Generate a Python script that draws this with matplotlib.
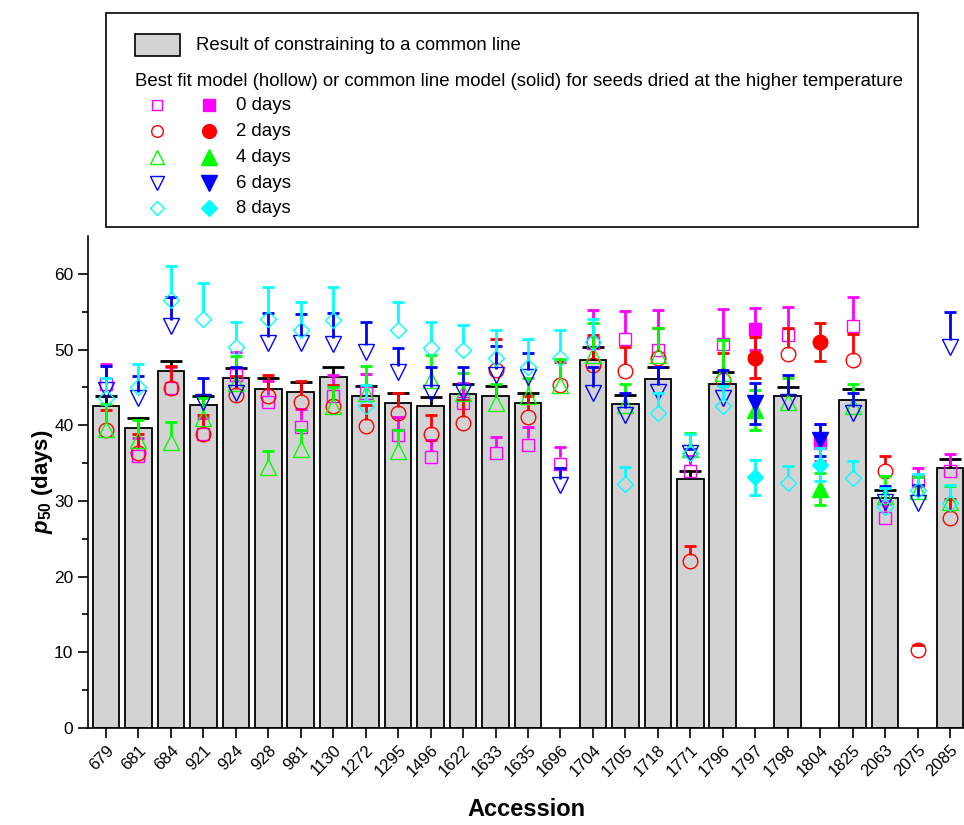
import numpy as np
import matplotlib
matplotlib.use('Agg')
import matplotlib.pyplot as plt
from matplotlib.patches import Rectangle
from matplotlib.lines import Line2D

plt.rcParams['font.family'] = ['Liberation Sans', 'DejaVu Sans']
plt.rcParams['mathtext.fontset'] = 'custom'
plt.rcParams['mathtext.it'] = 'Liberation Sans:italic:bold'
plt.rcParams['mathtext.bf'] = 'Liberation Sans:bold'
plt.rcParams['mathtext.rm'] = 'Liberation Sans:bold'

nan = np.nan

accessions = ['679', '681', '684', '921', '924', '928', '981', '1130', '1272', '1295',
              '1496', '1622', '1633', '1635', '1696', '1704', '1705', '1718', '1771',
              '1796', '1797', '1798', '1804', '1825', '2063', '2075', '2085']

# common line result (bars) and upper error
bar_vals = [42.5, 39.7, 47.1, 42.7, 46.2, 44.8, 44.4, 46.4, 43.9, 43.0,
            42.5, 44.1, 43.8, 43.0, nan, 48.6, 42.8, 46.1, 32.9,
            45.5, nan, 43.8, nan, 43.3, 30.4, nan, 34.4]
bar_err = [1.3, 1.2, 1.4, 1.2, 1.4, 1.4, 1.3, 1.3, 1.3, 1.3,
           1.2, 1.4, 1.4, 1.3, nan, 1.7, 1.2, 1.6, 1.1,
           1.5, nan, 1.3, nan, 1.5, 1.1, nan, 1.1]

# accessions where the common line model (solid markers) was used
solid = ['1797', '1804']

d0_vals = [45.5, 36.0, 44.9, 38.9, 46.6, 43.1, 39.8, 43.8, 44.2, 38.7,
           35.8, 42.9, 36.3, 37.4, 34.9, 50.8, 51.4, 50.0, 33.9,
           50.7, 52.7, 51.9, 37.7, 53.1, 27.8, 32.6, 33.9]
d0_err = [2.6, 2.3, 2.8, 2.0, 3.1, 2.8, 2.3, 2.8, 2.6, 2.4,
          2.2, 2.7, 2.2, 2.4, 2.2, 4.4, 3.7, 5.2, 2.0,
          4.7, 2.8, 3.7, 2.4, 3.9, 2.2, 1.7, 2.3]

d2_vals = [39.4, 36.3, 44.9, 38.9, 44.0, 43.9, 43.1, 42.5, 39.9, 41.6,
           38.8, 40.3, 47.3, 41.1, 45.3, 48.0, 47.2, 48.9, 22.0,
           46.0, 48.9, 49.4, 51.0, 48.6, 34.0, 10.3, 27.7]
d2_err = [2.6, 2.5, 2.9, 2.4, 2.5, 2.7, 2.8, 2.8, 2.8, 2.6,
          2.5, 3.0, 4.1, 2.8, 3.0, 3.9, 3.2, 3.9, 2.0,
          3.6, 2.7, 3.4, 2.5, 3.5, 1.9, 0.7, 2.6]

d4_vals = [39.5, 38.1, 37.8, 40.9, 45.6, 34.5, 36.9, 42.5, 44.2, 36.6,
           46.0, 44.2, 42.9, 43.8, 45.3, 49.3, 42.7, 49.3, 36.9,
           46.9, 42.0, 43.1, 31.6, 42.5, 30.6, 31.3, 29.9]
d4_err = [3.3, 2.6, 2.6, 2.7, 3.6, 2.1, 2.5, 2.5, 3.6, 2.8,
          3.3, 2.7, 2.6, 2.5, 3.4, 4.2, 2.7, 3.6, 2.1,
          4.4, 2.6, 3.1, 2.1, 2.9, 2.7, 1.8, 2.1]

d6_vals = [44.7, 43.6, 53.1, 43.1, 44.2, 50.8, 50.9, 50.7, 49.7, 47.0,
           44.2, 44.4, 46.6, 46.4, 32.1, 44.2, 41.4, 44.4, 36.3,
           43.6, 42.9, 43.1, 38.0, 41.6, 29.9, 29.7, 50.4]
d6_err = [3.1, 2.9, 3.8, 3.1, 3.5, 4.0, 3.8, 4.1, 3.9, 3.2,
          3.5, 3.3, 3.9, 3.1, 2.3, 3.5, 2.8, 3.3, 0.6,
          3.7, 2.7, 3.5, 2.1, 2.7, 2.1, 2.4, 4.6]

d8_vals = [43.6, 45.1, 56.6, 54.1, 50.4, 54.0, 52.6, 53.9, 42.5, 52.6,
           50.2, 49.9, 48.9, 47.7, 48.9, 51.0, 32.3, 41.6, 36.3,
           42.5, 33.1, 32.4, 34.8, 33.0, 29.2, 31.4, 29.7]
d8_err = [2.6, 3.0, 4.5, 4.7, 3.2, 4.2, 3.7, 4.3, 2.8, 3.7,
          3.4, 3.4, 3.7, 3.7, 3.7, 3.1, 2.2, 2.6, 2.6,
          2.7, 2.3, 2.2, 2.2, 2.3, 2.5, 2.2, 2.4]

series = [
    ('0 days', d0_vals, d0_err, '#ff00ff', 's', 9),
    ('2 days', d2_vals, d2_err, '#ff0000', 'o', 10.5),
    ('4 days', d4_vals, d4_err, '#00ff00', '^', 12),
    ('6 days', d6_vals, d6_err, '#0000ff', 'v', 12),
    ('8 days', d8_vals, d8_err, '#00ffff', 'D', 8.5),
]

fig = plt.figure(figsize=(9.64, 8.25), dpi=100)
ax = fig.add_axes([88 / 964, 1 - 728 / 825, (964 - 88) / 964, 492 / 825])

x = np.arange(len(accessions))
is_solid = np.array([a in solid for a in accessions])

# bars
bv = np.array(bar_vals)
be = np.array(bar_err)
ax.bar(x, bv, width=0.82, color='#d3d3d3', edgecolor='black', linewidth=1.3, zorder=2)
ax.vlines(x, bv, bv + be, color='black', lw=2, zorder=3)
ax.plot(x, bv + be, ls='none', marker='_', ms=16.5, mew=2, color='black', zorder=3)

off = 0.85  # hollow-marker error lines start at the marker edge
for k, (lab, vals, errs, col, mk, ms) in enumerate(series):
    v = np.array(vals)
    e = np.array(errs)
    h = ~is_solid
    z = 4 + k * 0.1
    # hollow: upper error only
    ax.vlines(x[h], v[h] + off, v[h] + e[h], color=col, lw=2, zorder=z)
    ax.plot(x[h], v[h] + e[h], ls='none', marker='_', ms=8, mew=2, color=col, zorder=z)
    ax.plot(x[h], v[h], ls='none', marker=mk, ms=ms, mfc='none', mec=col, mew=1.0, zorder=z)
    # solid: symmetric error
    s = is_solid
    ax.errorbar(x[s], v[s], yerr=e[s], fmt=mk, ms=ms, color=col, mfc=col, mec=col,
                ecolor=col, elinewidth=2, capsize=4, capthick=2, zorder=z)

ax.set_xlim(-0.555, 26.43)
ax.set_ylim(0, 65)
ax.set_yticks(np.arange(0, 61, 10))
ax.set_yticks(np.arange(5, 61, 10), minor=True)
ax.set_xticks(x)
ax.set_xticklabels(accessions, rotation=45, ha='right', rotation_mode='anchor', fontsize=12)
ax.tick_params(axis='y', labelsize=12.5, length=7, width=1.2, direction='out')
ax.tick_params(axis='y', which='minor', length=4, width=1.2)
ax.tick_params(axis='x', length=7, width=1.2, direction='out')
for sp in ['top', 'right']:
    ax.spines[sp].set_visible(False)
for sp in ['left', 'bottom']:
    ax.spines[sp].set_linewidth(1.2)

ax.set_xlabel('Accession', fontsize=17, fontweight='bold', labelpad=13)
ax.set_ylabel(r'$\mathit{p}_{\mathbf{50}}$ (days)', fontsize=16, fontweight='bold', labelpad=-1)

# legend box drawn by hand
fig.add_artist(Rectangle((106 / 964, 1 - 227 / 825), (918 - 106) / 964, (227 - 13) / 825,
                         transform=fig.transFigure, fill=False, edgecolor='black', lw=1.2))
fig.add_artist(Rectangle((135 / 964, 1 - 56 / 825), 45 / 964, 22 / 825,
                         transform=fig.transFigure, facecolor='#d3d3d3', edgecolor='black', lw=1.2))
fig.text(196 / 964, 1 - 45 / 825, 'Result of constraining to a common line',
         fontsize=13.4, va='center', ha='left')
fig.text(135 / 964, 1 - 82 / 825,
         'Best fit model (hollow) or common line model (solid) for seeds dried at the higher temperature',
         fontsize=13.4, va='center', ha='left')
row_y = [105, 131, 157, 183, 208]
for (lab, vals, errs, col, mk, ms), ry in zip(series, row_y):
    yy = 1 - ry / 825
    fig.add_artist(Line2D([157 / 964], [yy], transform=fig.transFigure, ls='none',
                          marker=mk, ms=ms * 0.8, mfc='none', mec=col, mew=1.0))
    fig.add_artist(Line2D([209 / 964], [yy], transform=fig.transFigure, ls='none',
                          marker=mk, ms=ms * 0.95, mfc=col, mec=col, mew=1.0))
    fig.text(236 / 964, yy, lab, fontsize=13.4, va='center', ha='left')

fig.savefig('out.png', dpi=100)
